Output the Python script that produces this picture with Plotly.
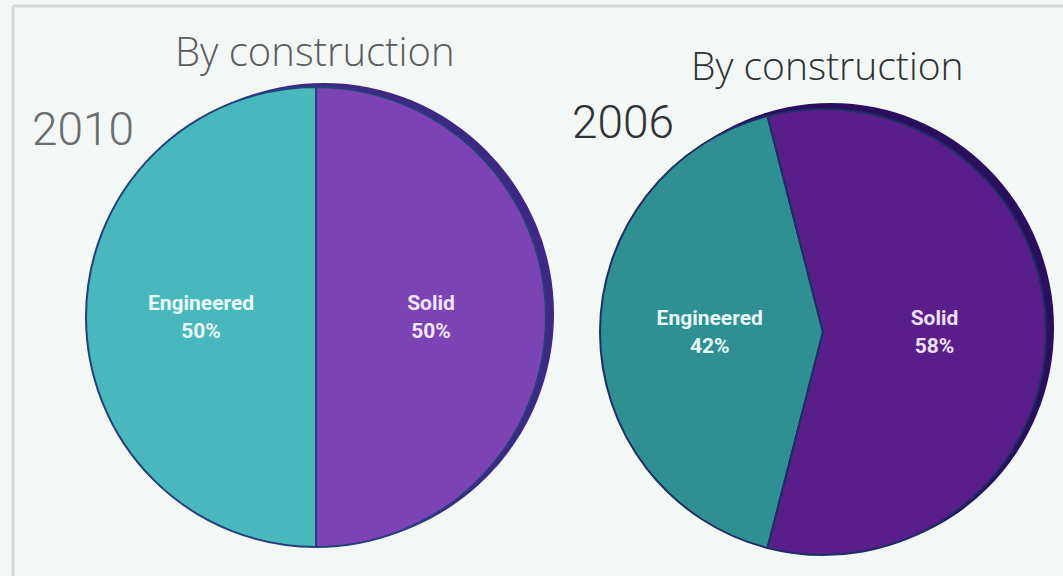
import plotly.graph_objects as go

# Share of flooring sales by construction type
categories = ["Engineered", "Solid"]
share_2010 = [50, 50]
share_2006 = [42, 58]
years = ["2010", "2006"]
panel_title = "By construction"

W, H = 1063, 576


def px_x(x):
    return x / W


def px_y(y):
    return 1 - y / H


def start_angle(values):
    # rotate so the first slice sits centred on the left-hand side
    first = values[0] / sum(values) * 360
    return 270 - first / 2


fig = go.Figure()

label_font = dict(family="Roboto, sans-serif", size=21, weight="bold")

# 2010 pie
fig.add_trace(go.Pie(
    labels=categories, values=share_2010,
    domain=dict(x=[px_x(86), px_x(546)], y=[px_y(548), px_y(86)]),
    sort=False, direction="counterclockwise", rotation=start_angle(share_2010),
    marker=dict(colors=["#48b8bd", "#7b43b4"], line=dict(color="#23407a", width=2)),
    texttemplate="%{label}<br>%{value}%", textposition="inside",
    insidetextorientation="horizontal",
    textfont=dict(label_font, color=["#eafcfc", "#f3e6ff"]),
    hoverinfo="label+percent", showlegend=False,
))

# 2006 pie
fig.add_trace(go.Pie(
    labels=categories, values=share_2006,
    domain=dict(x=[px_x(600), px_x(1046)], y=[px_y(557), px_y(107)]),
    sort=False, direction="counterclockwise", rotation=start_angle(share_2006),
    marker=dict(colors=["#2f9093", "#591e89"], line=dict(color="#1d2f66", width=2)),
    texttemplate="%{label}<br>%{value}%", textposition="inside",
    insidetextorientation="horizontal",
    textfont=dict(label_font, color=["#e6f8f8", "#efe0ff"]),
    hoverinfo="label+percent", showlegend=False,
))

shapes = [
    # dark rim behind each disc
    dict(type="circle", xref="paper", yref="paper", layer="below",
         x0=px_x(94), x1=px_x(554), y0=px_y(545), y1=px_y(83),
         fillcolor="#3e2883", line=dict(width=0)),
    dict(type="circle", xref="paper", yref="paper", layer="below",
         x0=px_x(608), x1=px_x(1054), y0=px_y(553), y1=px_y(103),
         fillcolor="#2a0f5e", line=dict(width=0)),
    # page frame
    dict(type="line", xref="paper", yref="paper", x0=px_x(13), x1=1, y0=px_y(6), y1=px_y(6),
         line=dict(color="#d6d9d9", width=3), layer="below"),
    dict(type="line", xref="paper", yref="paper", x0=px_x(13), x1=px_x(13), y0=0, y1=px_y(6),
         line=dict(color="#d6d9d9", width=3), layer="below"),
]

annotations = [
    dict(text=panel_title, x=px_x(315), y=px_y(51), xanchor="center", yanchor="middle",
         font=dict(family="Open Sans, sans-serif", size=40, weight=300, color="#5a5c5e")),
    dict(text=years[0], x=px_x(30), y=px_y(129), xanchor="left", yanchor="middle",
         font=dict(family="Roboto, sans-serif", size=46, weight=300, color="#6a6c6e")),
    dict(text=panel_title, x=px_x(827), y=px_y(64), xanchor="center", yanchor="middle",
         font=dict(family="Open Sans, sans-serif", size=39, weight=300, color="#2e3032")),
    dict(text=years[1], x=px_x(570), y=px_y(122), xanchor="left", yanchor="middle",
         font=dict(family="Roboto, sans-serif", size=46, weight=300, color="#303234")),
]
for a in annotations:
    a.update(xref="paper", yref="paper", showarrow=False)

fig.update_layout(
    width=W, height=H,
    margin=dict(l=0, r=0, t=0, b=0),
    paper_bgcolor="#f3f8f7",
    plot_bgcolor="#f3f8f7",
    shapes=shapes,
    annotations=annotations,
)

fig.write_html("out.html")
